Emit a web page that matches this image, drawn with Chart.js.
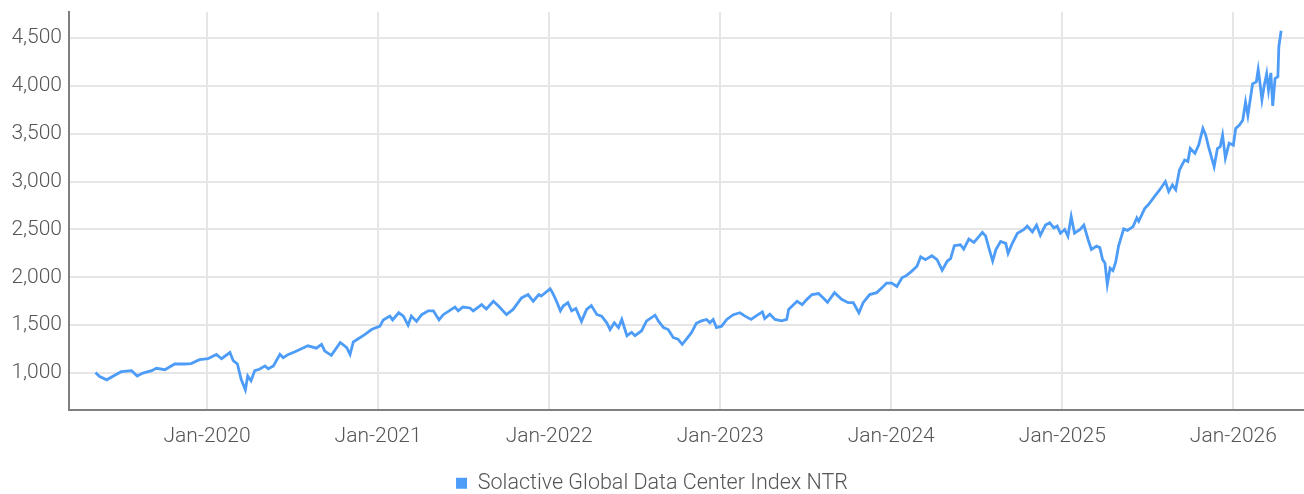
<!DOCTYPE html>
<html>
<head>
<meta charset="utf-8">
<script src="https://cdn.jsdelivr.net/npm/chart.js@4"></script>
<style>
  html, body { margin: 0; padding: 0; background: #fff; }
  #wrap { width: 1304px; height: 494px; }
</style>
</head>
<body>
<div id="wrap"><canvas id="chart" width="1304" height="494"></canvas></div>
<script>
// index levels
const dates = [
  '2019-05-08','2019-05-17','2019-06-01','2019-06-19','2019-07-02','2019-07-24','2019-08-05','2019-08-17',
  '2019-09-05','2019-09-15','2019-10-03','2019-10-24','2019-11-14','2019-11-28','2019-12-16',
  '2020-01-03','2020-01-21','2020-02-01','2020-02-19','2020-02-26','2020-03-06','2020-03-14','2020-03-23',
  '2020-03-28','2020-04-04','2020-04-12','2020-04-22','2020-05-04','2020-05-11','2020-05-22','2020-06-05',
  '2020-06-12','2020-06-23','2020-07-06','2020-08-04','2020-08-22','2020-09-02','2020-09-09','2020-09-23',
  '2020-10-12','2020-10-26','2020-11-02','2020-11-09','2020-12-04','2020-12-18',
  '2021-01-05','2021-01-12','2021-01-26','2021-02-01','2021-02-14','2021-02-24','2021-03-06','2021-03-13',
  '2021-03-24','2021-04-04','2021-04-18','2021-04-29','2021-05-11','2021-05-20','2021-06-14','2021-06-21',
  '2021-07-01','2021-07-16','2021-07-23','2021-08-10','2021-08-20','2021-09-04','2021-09-15','2021-10-02',
  '2021-10-16','2021-11-03','2021-11-17','2021-11-28','2021-12-10','2021-12-15',
  '2022-01-03','2022-01-07','2022-01-13','2022-01-18','2022-01-25','2022-01-31','2022-02-10','2022-02-18',
  '2022-02-27','2022-03-11','2022-03-22','2022-04-01','2022-04-13','2022-04-23','2022-05-04','2022-05-11',
  '2022-05-20','2022-05-29','2022-06-05','2022-06-16','2022-06-26','2022-07-03','2022-07-17','2022-07-28',
  '2022-08-15','2022-08-22','2022-09-02','2022-09-12','2022-09-23','2022-10-03','2022-10-12','2022-10-21',
  '2022-11-01','2022-11-11','2022-11-22','2022-12-03','2022-12-10','2022-12-17','2022-12-24',
  '2023-01-04','2023-01-15','2023-01-29','2023-02-12','2023-02-23','2023-03-08','2023-03-18','2023-04-01',
  '2023-04-06','2023-04-17','2023-04-28','2023-05-12','2023-05-23','2023-05-27','2023-06-14','2023-06-25',
  '2023-07-05','2023-07-16','2023-07-30','2023-08-09','2023-08-18','2023-09-02','2023-09-17','2023-10-01',
  '2023-10-12','2023-10-24','2023-11-02','2023-11-16','2023-12-01','2023-12-12','2023-12-22',
  '2024-01-02','2024-01-13','2024-01-24','2024-02-03','2024-02-14','2024-02-25','2024-03-04','2024-03-14',
  '2024-03-28','2024-04-08','2024-04-19','2024-04-30','2024-05-07','2024-05-15','2024-05-28','2024-06-04',
  '2024-06-15','2024-06-26','2024-07-14','2024-07-21','2024-07-28','2024-08-05','2024-08-12','2024-08-22',
  '2024-09-02','2024-09-07','2024-09-16','2024-09-27','2024-10-11','2024-10-18','2024-10-29','2024-11-07',
  '2024-11-15','2024-11-26','2024-12-05','2024-12-14','2024-12-21','2024-12-28',
  '2025-01-06','2025-01-13','2025-01-20','2025-01-27','2025-02-08','2025-02-16','2025-02-25','2025-03-04',
  '2025-03-15','2025-03-22','2025-03-28','2025-04-02','2025-04-07','2025-04-13','2025-04-19','2025-04-25',
  '2025-05-01','2025-05-12','2025-05-20','2025-06-01','2025-06-09','2025-06-13','2025-06-26','2025-07-03',
  '2025-07-17','2025-07-28','2025-08-09','2025-08-16','2025-08-24','2025-08-31','2025-09-08','2025-09-19',
  '2025-09-26','2025-10-01','2025-10-11','2025-10-19','2025-10-28','2025-11-03','2025-11-09','2025-11-21',
  '2025-11-28','2025-12-04','2025-12-09','2025-12-15','2025-12-23',
  '2026-01-01','2026-01-06','2026-01-14','2026-01-21','2026-01-27','2026-02-01','2026-02-11','2026-02-19',
  '2026-02-23','2026-02-26','2026-03-03','2026-03-08','2026-03-13','2026-03-17','2026-03-22','2026-03-26',
  '2026-03-31','2026-04-06','2026-04-08','2026-04-13'
];
const values = [
  1005, 965, 930, 980, 1015, 1025, 970, 1000,
  1025, 1050, 1035, 1095, 1095, 1100, 1140,
  1150, 1195, 1150, 1215, 1130, 1095, 935, 825,
  970, 920, 1025, 1040, 1075, 1045, 1075, 1195,
  1160, 1195, 1220, 1285, 1260, 1300, 1230, 1185,
  1320, 1265, 1195, 1325, 1405, 1455,
  1490, 1555, 1595, 1555, 1630, 1595, 1500, 1595,
  1540, 1610, 1650, 1650, 1555, 1610, 1690, 1650,
  1690, 1680, 1650, 1715, 1670, 1750, 1700, 1610,
  1665, 1785, 1820, 1750, 1820, 1805,
  1880, 1850, 1790, 1735, 1650, 1700, 1735, 1650,
  1675, 1540, 1665, 1705, 1610, 1595, 1525, 1455,
  1525, 1475, 1560, 1390, 1425, 1390, 1440, 1545,
  1605, 1545, 1475, 1455, 1370, 1355, 1300, 1355,
  1425, 1520, 1545, 1560, 1525, 1560, 1475,
  1490, 1560, 1610, 1630, 1595, 1560, 1595, 1640,
  1570, 1615, 1560, 1545, 1560, 1665, 1750, 1715,
  1770, 1820, 1830, 1785, 1740, 1840, 1770, 1735,
  1735, 1630, 1735, 1820, 1840, 1890, 1940,
  1940, 1905, 1995, 2020, 2065, 2115, 2215, 2185,
  2225, 2185, 2075, 2170, 2195, 2330, 2340, 2295,
  2400, 2365, 2470, 2430, 2305, 2170, 2290, 2375,
  2355, 2250, 2355, 2460, 2500, 2535, 2475, 2545,
  2440, 2545, 2570, 2515, 2535, 2460,
  2500, 2430, 2635, 2460, 2500, 2545, 2395, 2290,
  2325, 2310, 2185, 2150, 1925, 2095, 2070, 2160,
  2325, 2505, 2490, 2530, 2620, 2585, 2720, 2755,
  2845, 2915, 3000, 2895, 2965, 2915, 3120, 3225,
  3210, 3345, 3295, 3380, 3555, 3485, 3365, 3155,
  3345, 3365, 3485, 3245, 3400,
  3380, 3555, 3590, 3640, 3830, 3690, 4020, 4040,
  4170, 4060, 3855, 4005, 4125, 3955, 4135, 3790,
  4075, 4095, 4405, 4575
];
const yearTicks = [2020, 2021, 2022, 2023, 2024, 2025, 2026];
const valueTicks = [1000, 1500, 2000, 2500, 3000, 3500, 4000, 4500];
const seriesName = 'Solactive Global Data Center Index NTR';

// date string -> fractional year, so a plain linear axis can be used
function toYear(s) {
  const [y, m, d] = s.split('-').map(Number);
  const start = Date.UTC(y, 0, 1);
  const end = Date.UTC(y + 1, 0, 1);
  return y + (Date.UTC(y, m - 1, d) - start) / (end - start);
}

const points = dates.map((d, i) => ({ x: toYear(d), y: values[i] }));

const fontFamily = "Roboto, 'Noto Sans', sans-serif";
const blue = '#4d9cf7';

new Chart(document.getElementById('chart'), {
  type: 'line',
  data: {
    datasets: [{
      label: seriesName,
      data: points,
      borderColor: blue,
      backgroundColor: blue,
      borderWidth: 2.8,
      pointRadius: 0,
      tension: 0
    }]
  },
  options: {
    responsive: false,
    animation: false,
    // negative bottom padding pushes the legend down a little
    layout: { padding: { top: 12, right: 0, left: 0, bottom: -10 } },
    plugins: {
      tooltip: { enabled: false },
      legend: {
        position: 'bottom',
        labels: {
          boxWidth: 11,
          boxHeight: 11,
          color: '#555',
          padding: 4,
          font: { family: fontFamily, size: 21.5, weight: '300' },
          generateLabels: (chart) => {
            const items = Chart.defaults.plugins.legend.labels.generateLabels(chart);
            items.forEach(it => { it.lineWidth = 0; });
            return items;
          }
        }
      }
    },
    scales: {
      x: {
        type: 'linear',
        min: 2019.193,
        max: 2026.413,
        afterBuildTicks: (scale) => { scale.ticks = yearTicks.map(v => ({ value: v })); },
        afterFit: (scale) => { scale.height = 59; scale.paddingLeft = 0; scale.paddingRight = 0; },
        grid: { color: '#e6e6e6', lineWidth: 2, drawTicks: false },
        border: { color: '#7f7f7f', width: 2 },
        ticks: {
          color: '#555',
          padding: 15,
          maxRotation: 0,
          autoSkip: false,
          font: { family: fontFamily, size: 21, weight: '300' },
          callback: (v) => 'Jan-' + v
        }
      },
      y: {
        min: 620,
        max: 4770,
        afterBuildTicks: (scale) => { scale.ticks = valueTicks.map(v => ({ value: v })); },
        afterFit: (scale) => { scale.width = 69; scale.paddingTop = 0; scale.paddingBottom = 0; },
        grid: { color: '#e6e6e6', lineWidth: 2, drawTicks: false },
        border: { color: '#7f7f7f', width: 2 },
        ticks: {
          color: '#555',
          padding: 7,
          font: { family: fontFamily, size: 21, weight: '300' },
          callback: (v) => v.toLocaleString('en-US')
        }
      }
    }
  }
});
</script>
</body>
</html>
